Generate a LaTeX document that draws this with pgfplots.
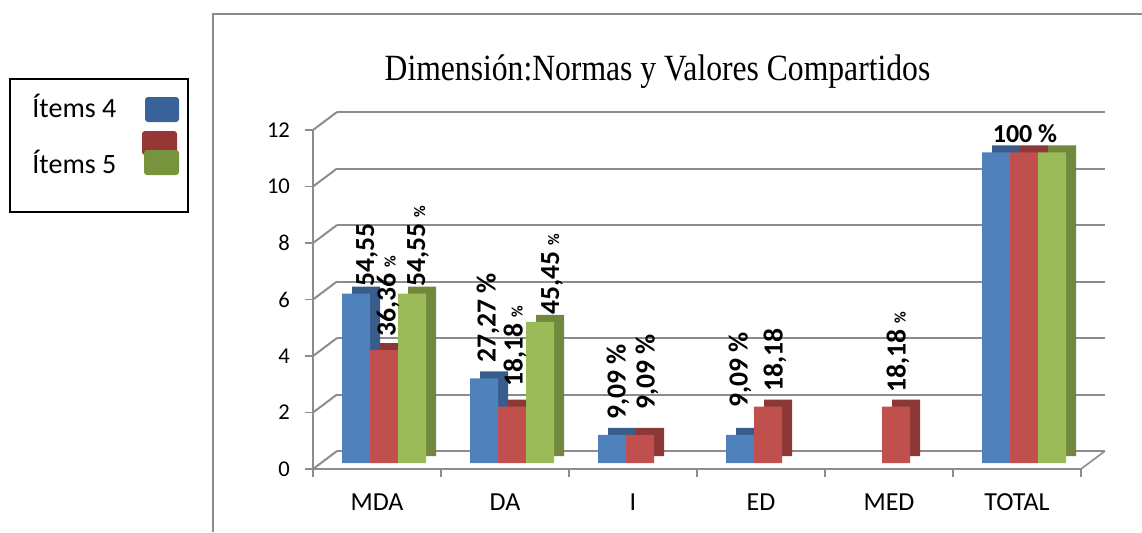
\documentclass[border=0pt]{standalone}
\usepackage{fontspec}
\setmainfont{Carlito}
\newfontfamily\titlefont[FakeStretch=0.855]{Liberation Serif}
\usepackage{pgfplots}
\pgfplotsset{compat=1.18}
\definecolor{cblue}{HTML}{4F81BD}
\definecolor{cred}{HTML}{C0504D}
\definecolor{cgreen}{HTML}{9BBB59}
\definecolor{cblueD}{HTML}{385D8A}
\definecolor{credD}{HTML}{8C3836}
\definecolor{cgreenD}{HTML}{71893F}
\definecolor{legblue}{HTML}{37629A}
\definecolor{legred}{HTML}{953735}
\definecolor{leggreen}{HTML}{77933C}
\definecolor{gridgray}{HTML}{8C8C8C}
\newcommand{\smallpct}{\ {\fontsize{8}{9}\selectfont\%}}
\begin{document}
\begin{tikzpicture}
\path[use as bounding box] (0,0) rectangle (571pt,-266pt);
\draw[gridgray, line width=1pt] (106.5pt,-266pt) -- (106.5pt,-7pt) -- (571pt,-7pt);
% legend
\draw[black, line width=0.8pt] (5pt,-39.5pt) rectangle (94pt,-106pt);
\node[anchor=base west, font=\fontsize{14}{16}\selectfont, inner sep=0pt] at (16pt,-58.5pt) {Ítems 4};
\node[anchor=base west, font=\fontsize{14}{16}\selectfont, inner sep=0pt] at (16pt,-86.5pt) {Ítems 5};
\fill[legblue, rounded corners=1.5pt] (72.5pt,-48.5pt) rectangle (89.5pt,-61pt);
\fill[legred, rounded corners=1.5pt] (71pt,-65.5pt) rectangle (88.5pt,-77.5pt);
\fill[leggreen, rounded corners=1.5pt] (72pt,-75pt) rectangle (89.5pt,-87.5pt);
% title
\node[anchor=base, font=\titlefont\fontsize{18.5}{21}\selectfont, inner sep=0pt] at (328.75pt,-40pt) {Dimensión:Normas y Valores Compartidos};
\begin{axis}[
  at={(156.5pt,-234.5pt)}, anchor=south west,
  scale only axis, width=384pt, height=169.5pt,
  xmin=-0.5, xmax=5.5, ymin=0, ymax=12,
  clip=false,
  axis x line*=bottom, axis y line*=left,
  axis line style={gridgray, line width=0.8pt},
  xtick={-0.5,0.5,1.5,2.5,3.5,4.5,5.5}, xticklabels={},
  extra x ticks={0,1,2,3,4,5},
  extra x tick labels={MDA,DA,I,ED,MED,TOTAL},
  extra x tick style={grid=none, major tick length=0pt, xticklabel style={yshift=-9pt, font=\fontsize{13}{15}\selectfont}},
  ytick={0,2,4,6,8,10,12},
  yticklabel style={xshift=-4pt, font=\fontsize{11.3}{13}\selectfont},
  tick align=outside, major tick length=4pt,
  tick style={gridgray, line width=0.8pt},
  ymajorgrids, major grid style={gridgray, line width=1pt, xshift=12pt, yshift=9pt},
  /pgf/number format/assume math mode=true,
]
\pgfplotsinvokeforeach{0,2,4,6,8,10,12}{\draw[gridgray, line width=1pt] (axis cs:-0.5,#1) -- ++(12pt,9pt);}
\draw[gridgray, line width=0.8pt] (axis cs:5.5,0) -- ++(12pt,9pt);
% blue
\addplot[ybar, bar width=14pt, bar shift=-5.5pt, fill=cblueD, draw=none, yshift=6.5pt] coordinates {(0,6) (1,3) (2,1) (3,1) (5,11)};
\addplot[ybar, bar width=14pt, bar shift=-10.5pt, fill=cblue, draw=none, yshift=3pt] coordinates {(0,6) (1,3) (2,1) (3,1) (5,11)};
% red
\addplot[ybar, bar width=14pt, bar shift=8.5pt, fill=credD, draw=none, yshift=6.5pt] coordinates {(0,4) (1,2) (2,1) (3,2) (4,2) (5,11)};
\addplot[ybar, bar width=14pt, bar shift=3.5pt, fill=cred, draw=none, yshift=3pt] coordinates {(0,4) (1,2) (2,1) (3,2) (4,2) (5,11)};
% green
\addplot[ybar, bar width=14pt, bar shift=22.5pt, fill=cgreenD, draw=none, yshift=6.5pt] coordinates {(0,6) (1,5) (5,11)};
\addplot[ybar, bar width=14pt, bar shift=17.5pt, fill=cgreen, draw=none, yshift=3pt] coordinates {(0,6) (1,5) (5,11)};
% labels
\addplot[draw=none, mark=none, point meta=explicit symbolic,
  nodes near coords={\rotatebox{90}{\pgfplotspointmeta}},
  every node near coord/.append style={inner sep=0pt, font=\bfseries\fontsize{13.8}{16}\selectfont}]
  coordinates {
  (-0.078,6.44) [54,55]
  (0.086,4.67) [36,36\smallpct]
  (0.320,6.44) [54,55\smallpct]
  (0.867,3.75) [27,27 \%]
  (1.078,2.90) [18,18\smallpct]
  (1.367,5.45) [45,45\smallpct]
  (1.883,1.73) [9,09 \%]
  (2.109,2.09) [9,09 \%]
  (2.836,2.16) [9,09 \%]
  (3.109,2.73) [18,18]
  (4.070,2.69) [18,18\smallpct]
  };
\addplot[draw=none, mark=none, point meta=explicit symbolic,
  nodes near coords,
  every node near coord/.append style={inner sep=0pt, font=\bfseries\fontsize{13}{15}\selectfont}]
  coordinates {(5.0625,11.54) [100 \%]};
\end{axis}
\end{tikzpicture}
\end{document}
